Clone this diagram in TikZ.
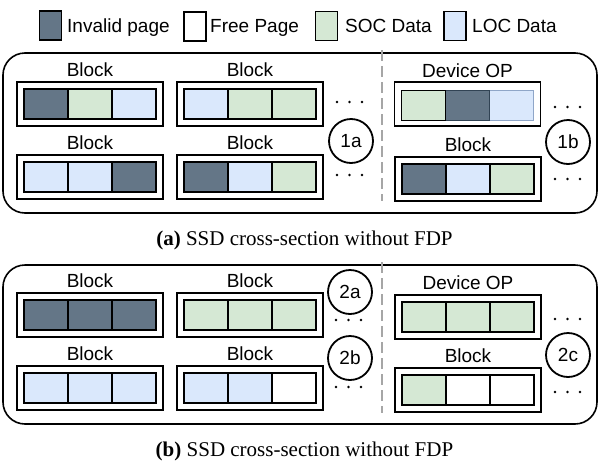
\documentclass[tikz,border=0pt]{standalone}
\usepackage{fontspec}
\setmainfont{Liberation Serif}
\setsansfont{Liberation Sans}
\definecolor{invc}{HTML}{647687}
\definecolor{invb}{HTML}{314354}
\definecolor{socc}{HTML}{D5E8D4}
\definecolor{locc}{HTML}{DAE8FC}
\definecolor{locb}{HTML}{8FA6C8}
\tikzset{
  lbl/.style={font=\sffamily\fontsize{19}{22}\selectfont, inner sep=0pt},
  captxt/.style={font=\rmfamily\fontsize{21}{24}\selectfont, inner sep=0pt, anchor=base},
  outerblk/.style={draw=black, line width=1.6pt, minimum width=146pt, minimum height=44pt, inner sep=0pt, outer sep=0pt},
  cell/.style={draw=black, line width=1.4pt, minimum width=44pt, minimum height=30pt, inner sep=0pt, outer sep=0pt},
  inv/.style={fill=invc},
  soc/.style={fill=socc},
  loc/.style={fill=locc},
  free/.style={fill=white},
  leg/.style={draw=black, line width=1.2pt, minimum width=22pt, minimum height=29pt, inner sep=0pt},
  num/.style={draw=black, circle, line width=1.8pt, minimum size=44pt, inner sep=0pt, font=\sffamily\fontsize{19}{22}\selectfont},
  frame/.style={draw=black, line width=1.6pt, rounded corners=22pt},
  divider/.style={draw=black!35, line width=1.4pt, dash pattern=on 11pt off 5pt},
  dot/.style={fill=black, draw=none, circle, minimum size=2.6pt, inner sep=0pt}
}
\newcommand\ssdblk[7]{%
  \node[outerblk] (#1) at ({#2+73},{#3+22}) {};
  \node[lbl] (#1l) at ({#2+73},{#3-12}) {#4};
  \node[cell,#5] (#1c1) at ({#2+29},{#3+22}) {};
  \node[cell,#6] (#1c2) at ({#2+73},{#3+22}) {};
  \node[cell,#7] (#1c3) at ({#2+117},{#3+22}) {};
}
\newcommand\dotrow[3]{%
  \node[dot] (#1a) at ({#2-12.5},#3) {};
  \node[dot] (#1b) at (#2,#3) {};
  \node[dot] (#1c) at ({#2+12.5},#3) {};
}
\begin{document}
\begin{tikzpicture}[x=1pt,y=-1pt]
\useasboundingbox (0,0) rectangle (600,461);
% legend
\node[leg,inv] (lg1) at (50.5,25.5) {};
\node[lbl,anchor=base west] (lt1) at (67,32) {Invalid page};
\node[leg,free] (lg2) at (195,26.5) {};
\node[lbl,anchor=base west] (lt2) at (210,32.5) {Free Page};
\node[leg,soc] (lg3) at (326.5,26) {};
\node[lbl,anchor=base west] (lt3) at (345,32) {SOC Data};
\node[leg,loc] (lg4) at (455,26) {};
\node[lbl,anchor=base west] (lt4) at (472,32) {LOC Data};

% ---------- (a)
\draw[frame] (3,53) rectangle (597,213);
\draw[divider] (382,50) -- (382,201);
\ssdblk{a1}{17}{82}{Block}{inv}{soc}{loc}
\ssdblk{a2}{177}{82}{Block}{loc}{soc}{soc}
\ssdblk{a3}{17}{155}{Block}{loc}{loc}{inv}
\ssdblk{a4}{177}{155}{Block}{inv}{loc}{soc}
% Device OP with light strokes
\node[outerblk] (aop) at (467.5,104) {};
\node[lbl] (aopl) at (467.5,71) {Device OP};
\node[cell,loc,draw=locb] (aopc3) at (511.5,105.5) {};
\node[cell,inv,draw=invb] (aopc2) at (467.5,105.5) {};
\node[cell,soc] (aopc1) at (423.5,105.5) {};
\ssdblk{a5}{395}{157}{Block}{inv}{loc}{soc}
\node[num] (n1a) at (351,141) {1a};
\node[num] (n1b) at (568,142) {1b};
\dotrow{da1}{349.5}{102}
\dotrow{da2}{349.5}{175}
\dotrow{da3}{567.5}{107}
\dotrow{da4}{567.5}{179}
\node[captxt] (capa) at (304.5,245) {\textbf{(a)} SSD cross-section without FDP};

% ---------- (b)
\draw[frame] (3,265) rectangle (597,424);
\draw[divider] (382,262) -- (382,413);
\ssdblk{b1}{17}{293}{Block}{inv}{inv}{inv}
\ssdblk{b2}{177}{293}{Block}{soc}{soc}{soc}
\ssdblk{b3}{17}{366}{Block}{loc}{loc}{loc}
\ssdblk{b4}{177}{366}{Block}{loc}{loc}{free}
\ssdblk{b5}{395}{295}{Device OP}{soc}{soc}{soc}
\ssdblk{b6}{395}{368}{Block}{soc}{free}{free}
\node[num] (n2a) at (350,292) {2a};
\node[num] (n2b) at (350,358) {2b};
\node[num] (n2c) at (568,355) {2c};
\dotrow{db1}{348.5}{320}
\dotrow{db2}{348.5}{387}
\dotrow{db3}{567.5}{319}
\dotrow{db4}{567.5}{392}
\node[captxt] (capb) at (304.5,456) {\textbf{(b)} SSD cross-section without FDP};
\end{tikzpicture}
\end{document}
